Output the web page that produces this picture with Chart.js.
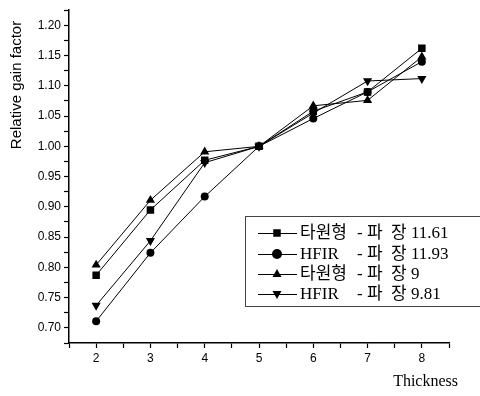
<!DOCTYPE html>
<html lang="ko">
<head>
<meta charset="UTF-8">
<title>Relative gain factor</title>
<style>
    html, body { margin: 0; padding: 0; background: #fff; }
    .chart-box { width: 480px; height: 396px; }
</style>
</head>
<body>
<div class="chart-box"><canvas id="gainChart" width="480" height="396"></canvas></div>

<script src="https://cdn.jsdelivr.net/npm/chart.js"></script>
<script>
    // dados
    const thickness = [2, 3, 4, 5, 6, 7, 8];
    const seriesNames = ['타원형', 'HFIR', '타원형', 'HFIR'];
    const wavelengths = ['11.61', '11.93', '9', '9.81'];
    const ellipse1161 = [0.787, 0.895, 0.977, 1.000, 1.058, 1.090, 1.162];
    const hfir1193   = [0.711, 0.824, 0.917, 1.000, 1.046, 1.090, 1.140];
    const ellipse9   = [0.804, 0.911, 0.991, 1.000, 1.067, 1.076, 1.148];
    const hfir981    = [0.737, 0.844, 0.973, 1.000, 1.055, 1.108, 1.112];

    const seriesValues = [ellipse1161, hfir1193, ellipse9, hfir981];
    const markers = [
        { style: 'rect', rot: 0, r: 5.3 },
        { style: 'circle', rot: 0, r: 4 },
        { style: 'triangle', rot: 0, r: 5.3 },
        { style: 'triangle', rot: 180, r: 5.3 }
    ];

    const sansFont = '"Liberation Sans", Arial, sans-serif';
    const serifFont = '"Liberation Serif", "Noto Sans CJK KR", serif';

    const datasets = seriesValues.map((vals, i) => ({
        label: seriesNames[i] + ' - 파 장 ' + wavelengths[i],
        data: thickness.map((t, j) => ({ x: t, y: vals[j] })),
        borderColor: '#000',
        borderWidth: 1,
        backgroundColor: '#000',
        pointStyle: markers[i].style,
        rotation: markers[i].rot,
        pointRadius: markers[i].r,
        pointBorderWidth: 0,
        tension: 0
    }));

    function drawMarker(ctx, style, rot, x, y, r) {
        ctx.save();
        ctx.fillStyle = '#000';
        ctx.beginPath();
        if (style === 'rect') {
            ctx.rect(x - r * 0.75, y - r * 0.75, r * 1.5, r * 1.5);
        } else if (style === 'circle') {
            ctx.arc(x, y, r, 0, Math.PI * 2);
        } else {
            const s = rot ? -1 : 1;
            ctx.moveTo(x, y - s * r);
            ctx.lineTo(x + r * 0.9, y + s * r * 0.6);
            ctx.lineTo(x - r * 0.9, y + s * r * 0.6);
            ctx.closePath();
        }
        ctx.fill();
        ctx.restore();
    }

    // títulos dos eixos e legenda desenhados à mão
    const extrasPlugin = {
        id: 'extras',
        afterDraw(chart) {
            const ctx = chart.ctx;
            ctx.save();
            ctx.fillStyle = '#000';

            // título do eixo y
            ctx.font = '15px ' + sansFont;
            ctx.translate(17, 85);
            ctx.rotate(-Math.PI / 2);
            ctx.textAlign = 'center';
            ctx.textBaseline = 'middle';
            ctx.fillText('Relative gain factor', 0, 0);
            ctx.setTransform(1, 0, 0, 1, 0, 0);

            // título do eixo x
            ctx.font = '16px ' + serifFont;
            ctx.textAlign = 'right';
            ctx.fillText('Thickness', 458, 382);

            // legenda
            ctx.strokeStyle = '#444';
            ctx.lineWidth = 1;
            ctx.strokeRect(245.5, 216.5, 240, 90);
            ctx.textAlign = 'left';
            ctx.font = '17px ' + serifFont;
            const rows = [233, 254, 274, 294];
            chart.data.datasets.forEach((ds, i) => {
                const y = rows[i];
                ctx.strokeStyle = '#000';
                ctx.beginPath();
                ctx.moveTo(258, y + 0.5);
                ctx.lineTo(297, y + 0.5);
                ctx.stroke();
                drawMarker(ctx, markers[i].style, markers[i].rot, 277, y, 5);
                ctx.fillText(seriesNames[i], 300, y + 1);
                ctx.fillText('- 파  장 ' + wavelengths[i], 357, y + 1);
            });
            ctx.restore();
        }
    };

    const ctx = document.getElementById('gainChart').getContext('2d');
    new Chart(ctx, {
        type: 'line',
        data: { datasets: datasets },
        plugins: [extrasPlugin],
        options: {
            responsive: false,
            animation: false,
            layout: { padding: { left: 0, right: 31, top: 7, bottom: 0 } },
            plugins: {
                legend: { display: false },
                tooltip: { enabled: false }
            },
            scales: {
                x: {
                    type: 'linear',
                    min: 1.5,
                    max: 8.5,
                    afterFit: s => { s.height = 53; },
                    ticks: {
                        stepSize: 0.5,
                        autoSkip: false,
                        maxRotation: 0,
                        padding: 3,
                        color: '#000',
                        font: { family: sansFont, size: 12 },
                        callback: v => Number.isInteger(v) ? String(v) : ''
                    },
                    grid: {
                        drawOnChartArea: false,
                        tickLength: 5,
                        tickColor: '#000',
                        tickWidth: 1.2
                    },
                    border: { color: '#000', width: 1.5 }
                },
                y: {
                    min: 0.675,
                    max: 1.225,
                    afterFit: s => { s.width = 69; },
                    ticks: {
                        stepSize: 0.025,
                        autoSkip: false,
                        padding: 3,
                        color: '#000',
                        font: { family: sansFont, size: 12 },
                        callback: v => {
                            const k = Math.round(v * 1000);
                            return (k % 50 === 0 && k >= 700 && k <= 1200) ? (k / 1000).toFixed(2) : '';
                        }
                    },
                    grid: {
                        drawOnChartArea: false,
                        tickLength: 5,
                        tickColor: '#000',
                        tickWidth: 1.2
                    },
                    border: { color: '#000', width: 1.5 }
                }
            }
        }
    });
</script>
</body>
</html>
